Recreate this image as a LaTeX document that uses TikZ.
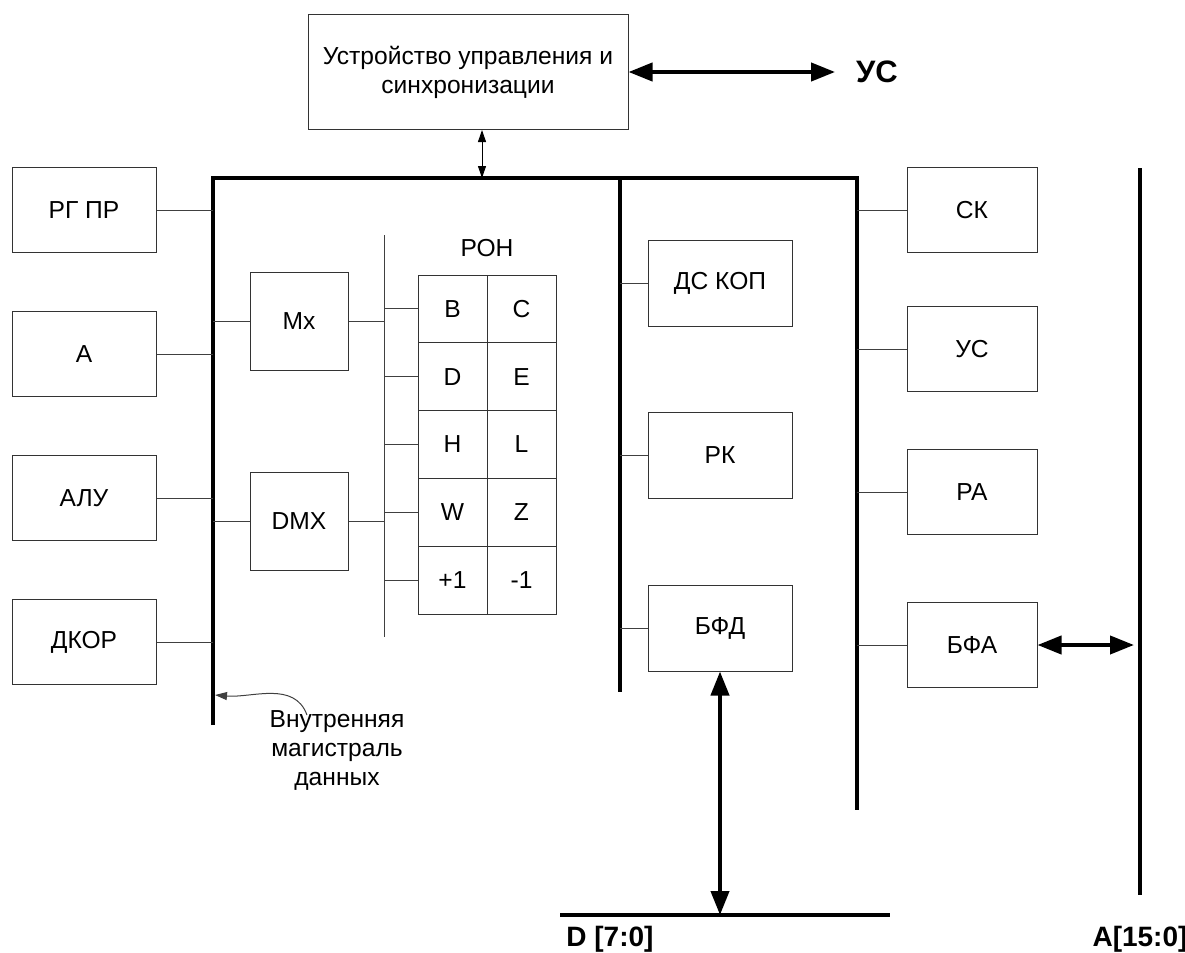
\documentclass[tikz,border=0pt]{standalone}
\usepackage{fontspec}
\setmainfont{Liberation Sans}
\usetikzlibrary{arrows.meta}

\begin{document}
\begin{tikzpicture}[x=0.5pt,y=-0.5pt,
    every node/.style={font=\fontsize{12.3}{14.5}\selectfont},
    blk/.style={draw=black!80, line width=0.5pt, fill=white, inner sep=0pt,
        minimum width=72pt, minimum height=42.5pt},
    reg/.style={draw=black!80, line width=0.5pt, inner sep=0pt,
        minimum width=34.5pt, minimum height=33.9pt},
    wire/.style={draw=black!75, line width=0.5pt},
    bus/.style={line width=2pt},
    lbl/.style={font=\fontsize{14}{16}\selectfont\bfseries},
    bigarr/.style={line width=2pt,
        {Triangle[length=12pt,width=9pt]}-{Triangle[length=12pt,width=9pt]}},
    smallarr/.style={line width=0.5pt,
        {Triangle[length=6pt,width=4pt]}-{Triangle[length=6pt,width=4pt]}},
]
\useasboundingbox (0,0) rectangle (1185,953);

% buses
\coordinate (lbt) at (213,178); \coordinate (lbb) at (213,725);
\coordinate (mbt) at (620,178); \coordinate (mbb) at (620,692);
\coordinate (rbt) at (857,178); \coordinate (rbb) at (857,810);
\coordinate (abt) at (1140,168); \coordinate (abb) at (1140,895);
\coordinate (dbl) at (560,915); \coordinate (dbr) at (890,915);
\coordinate (vt) at (384,235); \coordinate (vb) at (384,637);
\coordinate (lbn) at (215,695);

\draw[bus] (lbb) -- (lbt) -- (rbt) -- (rbb);
\draw[bus] (mbt) -- (mbb);
\draw[bus] (abt) -- (abb);
\draw[bus] (dbl) -- (dbr);
\draw[wire] (vt) -- (vb);

% control unit
\node[blk, minimum width=160pt, minimum height=57.5pt, align=center] (usu) at (468,72)
    {Устройство управления и\\синхронизации};
\node[lbl, font=\fontsize{15.5}{18}\selectfont\bfseries] (us) at (877,72) {УС};
\draw[bigarr, shorten >=7pt] (usu.east) -- (us.west);
\draw[smallarr] ([xshift=7pt]usu.south) -- ([xshift=7pt]usu.south |- lbt);

% left blocks
\node[blk] (rgpr) at (84,210) {РГ ПР};
\node[blk] (a) at (84,354) {А};
\node[blk] (alu) at (84,498) {АЛУ};
\node[blk] (dkor) at (84,642) {ДКОР};
\draw[wire] (rgpr) -- (rgpr -| lbt);
\draw[wire] (a) -- (a -| lbt);
\draw[wire] (alu) -- (alu -| lbt);
\draw[wire] (dkor) -- (dkor -| lbt);

% mux / demux
\node[blk, minimum width=49pt, minimum height=49pt] (mx) at (299,321) {Mx};
\node[blk, minimum width=49pt, minimum height=49pt] (dmx) at (299,521) {DMX};
\draw[wire] (mx -| lbt) -- (mx.west);
\draw[wire] (mx.east) -- (mx -| vt);
\draw[wire] (dmx -| lbt) -- (dmx.west);
\draw[wire] (dmx.east) -- (dmx -| vt);

% general purpose registers
\node (ron) at (487,248) {РОН};
\foreach \lt/\rt [count=\i] in {B/C,D/E,H/L,W/Z,+1/-1} {
    \node[reg] (rl\i) at (452.5,241.1+67.8*\i) {\lt};
    \node[reg] (rr\i) at (521.5,241.1+67.8*\i) {\rt};
    \draw[wire] (rl\i.west) -- (rl\i -| vt);
}

% middle blocks
\node[blk, minimum height=43pt] (dskop) at (720,283) {ДС КОП};
\node[blk, minimum height=43pt] (rk) at (720,455) {РК};
\node[blk, minimum height=43pt] (bfd) at (720,628) {БФД};
\draw[wire] (dskop) -- (dskop -| mbt);
\draw[wire] (rk) -- (rk -| mbt);
\draw[wire] (bfd) -- (bfd -| mbt);
\draw[bigarr] (bfd.south) -- (bfd.south |- dbl);

% right blocks
\node[blk, minimum width=65pt] (sk) at (972,210) {СК};
\node[blk, minimum width=65pt] (usr) at (972,349) {УС};
\node[blk, minimum width=65pt] (ra) at (972,492) {РА};
\node[blk, minimum width=65pt] (bfa) at (972,645) {БФА};
\draw[wire] (sk) -- (sk -| rbt);
\draw[wire] (usr) -- (usr -| rbt);
\draw[wire] (ra) -- (ra -| rbt);
\draw[wire] (bfa) -- (bfa -| rbt);
\draw[bigarr, shorten >=3pt] (bfa.east) -- (bfa -| abt);

% bus labels
\node[lbl] (dlbl) at (610,939) {D [7:0]};
\node[lbl] (albl) at (1140,939) {A[15:0]};
\node[align=center] (note) at (337,750) {Внутренняя\\магистраль\\данных};
\draw[wire, -{Triangle[length=6pt,width=4pt]}] ([xshift=-15pt,yshift=-6pt]note.north)
    to[out=110,in=-5] (lbn);
\end{tikzpicture}
\end{document}
